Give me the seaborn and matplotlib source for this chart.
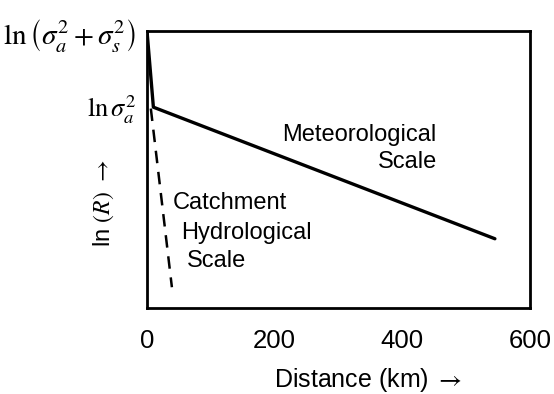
import matplotlib
matplotlib.use("Agg")
import matplotlib.pyplot as plt
import seaborn as sns
import pandas as pd

# Data (schematic, normalised log-correlation units)
meteo_x = [0, 10, 545]
meteo_y = [1.0, 0.725, 0.25]
catch_x = [6, 39]
catch_y = [0.72, 0.075]

x_ticks = [0, 200, 400, 600]
x_ticklabels = ["0", "200", "400", "600"]
y_ticks = [0.735, 1.0]
y_ticklabels = [r"$\ln\sigma_a^2$", r"$\ln\left(\sigma_a^2+\sigma_s^2\right)$"]

sns.set_theme(style="white")
plt.rcParams["font.family"] = ["Liberation Sans", "DejaVu Sans"]
plt.rcParams["mathtext.fontset"] = "stix"
plt.rcParams["text.color"] = "black"
plt.rcParams["axes.labelcolor"] = "black"

fig = plt.figure(figsize=(5.54, 3.94), dpi=100)
ax = fig.add_axes([147 / 554, 1 - 308 / 394, 383 / 554, 277 / 394])

df_m = pd.DataFrame({"x": meteo_x, "y": meteo_y})
df_c = pd.DataFrame({"x": catch_x, "y": catch_y})
sns.lineplot(data=df_m, x="x", y="y", ax=ax, color="black", lw=2.4,
             sort=False, estimator=None)
sns.lineplot(data=df_c, x="x", y="y", ax=ax, color="black", lw=1.8,
             sort=False, estimator=None, linestyle=(0, (5, 3.5)))

ax.set_xlim(0, 600)
ax.set_ylim(0, 1.0)
ax.set_xticks(x_ticks)
ax.set_xticklabels(x_ticklabels, fontsize=18.5)
ax.set_yticks(y_ticks)
ax.set_yticklabels(y_ticklabels, fontsize=19)
ax.get_yticklabels()[1].set_fontsize(21)
ax.tick_params(axis="x", direction="in", length=7, width=1.5, pad=15,
               colors="black", labelcolor="black")
ax.tick_params(axis="y", direction="in", length=4, width=1.5, pad=8,
               colors="black", labelcolor="black")

for s in ax.spines.values():
    s.set_visible(True)
    s.set_color("black")
    s.set_linewidth(2.0)

ax.set_xlabel(r"Distance (km) $\rightarrow$", fontsize=18, va="center", color="black")
ax.xaxis.set_label_coords(0.577, -0.26)
ax.set_ylabel(r"ln $(R)$ $\rightarrow$", fontsize=17, va="center", color="black")
ax.yaxis.set_label_coords(-0.112, 0.379)

ax.text(454, 0.625, "Meteorological", fontsize=17, ha="right", va="center", color="black")
ax.text(454, 0.527, "Scale", fontsize=17, ha="right", va="center", color="black")
ax.text(40.7, 0.379, "Catchment", fontsize=17, ha="left", va="center", color="black")
ax.text(53.3, 0.271, "Hydrological", fontsize=17, ha="left", va="center", color="black")
ax.text(62.7, 0.170, "Scale", fontsize=17, ha="left", va="center", color="black")

fig.savefig("out.png", dpi=100)
